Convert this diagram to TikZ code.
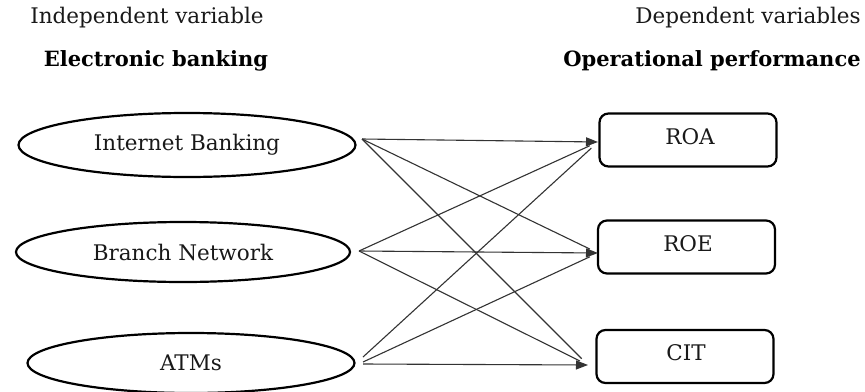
\documentclass[tikz,border=0pt]{standalone}
\usepackage{fontspec}
\setmainfont{DejaVu Serif}
\usetikzlibrary{shapes.geometric,arrows.meta}
\tikzset{
  oval/.style={ellipse, draw=black, line width=2.2pt, inner sep=0pt, font=\fontsize{21.5}{24}\selectfont, text=black!90},
  outbox/.style={draw=black, line width=2.2pt, rounded corners=9pt, minimum width=177pt, minimum height=53pt, inner sep=0pt},
  boxtext/.style={font=\fontsize{21.5}{24}\selectfont, text=black!90, inner sep=0pt},
  head/.style={font=\fontsize{21.5}{24}\selectfont, text=black!90, inner sep=0pt},
  headb/.style={font=\bfseries\fontsize{21}{24}\selectfont, text=black, inner sep=0pt},
  link/.style={draw=black!80, line width=1.1pt},
  arr/.style={link, -{Triangle[length=12pt,width=9pt]}},
  diag/.style={link, shorten >=9pt},
}
\begin{document}
\begin{tikzpicture}[x=1pt,y=-1pt]
\useasboundingbox (0,0) rectangle (865,391);
\fill[white] (0,0) rectangle (865,391);
% headers
\node[head] (h1) at (147,18) {Independent variable};
\node[headb] (h2) at (156,61) {Electronic banking};
\node[head] (h3) at (748,18) {Dependent variables};
\node[headb] (h4) at (712,61) {Operational performance};
% ellipses
\node[oval, minimum width=337pt, minimum height=64pt] (ib) at (187,145) {Internet Banking};
\node[oval, minimum width=334pt, minimum height=60pt] (bn) at (183,252) {Branch Network};
\node[oval, minimum width=327pt, minimum height=60pt] (atm) at (191,363) {ATMs};
% boxes
\node[outbox] (roa) at (688,140) {};
\node[outbox] (roe) at (686.5,247) {};
\node[outbox] (cit) at (685,356.5) {};
\node[boxtext] (troa) at (690,137) {ROA};
\node[boxtext] (troe) at (688,244) {ROE};
\node[boxtext] (tcit) at (686,353) {CIT};
% connector ends
\coordinate (s1) at (362,139);
\coordinate (s2) at (359,251);
\coordinate (s3a) at (363,357);
\coordinate (s3b) at (363,362);
\coordinate (s3c) at (363,364);
\coordinate (e1) at (598,142);
\coordinate (e2) at (598,253);
\coordinate (e3) at (588,365);
% connectors
\draw[arr] (s1) -- (e1);
\draw[diag] (s1) -- (e2);
\draw[diag] (s1) -- (e3);
\draw[diag] (s2) -- (e1);
\draw[arr] (s2) -- (e2);
\draw[diag] (s2) -- (e3);
\draw[diag] (s3a) -- (e1);
\draw[diag] (s3b) -- (e2);
\draw[arr] (s3c) -- (e3);
\end{tikzpicture}
\end{document}
